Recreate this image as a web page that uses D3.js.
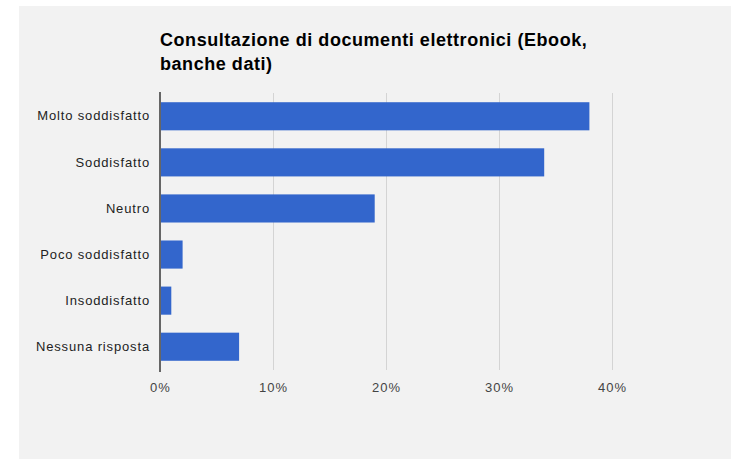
<!DOCTYPE html>
<html>
<head>
<meta charset="utf-8">
<script src="https://cdn.jsdelivr.net/npm/d3@7"></script>
<style>
  html, body { margin: 0; padding: 0; background: #ffffff; }
  svg { display: block; font-family: "Liberation Sans", Arial, sans-serif; }
</style>
</head>
<body>
<svg id="chart" width="731" height="459"></svg>
<script>
// Survey answers and their share of respondents (%)
const categories = ["Molto soddisfatto", "Soddisfatto", "Neutro", "Poco soddisfatto", "Insoddisfatto", "Nessuna risposta"];
const values = [38, 34, 19, 2, 1, 7];
const tickValues = [0, 10, 20, 30, 40];
const titleLines = ["Consultazione di documenti elettronici (Ebook,", "banche dati)"];

const svg = d3.select("#chart");
const W = 731, H = 459;

// light grey panel
svg.append("rect")
  .attr("x", 19).attr("y", 6)
  .attr("width", W - 19).attr("height", H - 6)
  .attr("fill", "#f2f2f2");

const plot = { left: 160, right: 725, top: 93, bottom: 370 };

const x = d3.scaleLinear()
  .domain([0, 10])
  .range([plot.left, plot.left + 113]);

const y = d3.scaleBand()
  .domain(categories)
  .range([plot.top, plot.bottom])
  .paddingInner(0.39)
  .paddingOuter(0.2);

// title
svg.append("text")
  .attr("x", plot.left)
  .attr("y", 46)
  .attr("font-size", 18)
  .attr("font-weight", "bold")
  .attr("letter-spacing", 0.55)
  .attr("fill", "#000")
  .selectAll("tspan")
  .data(titleLines)
  .join("tspan")
  .attr("x", plot.left)
  .attr("dy", (d, i) => i === 0 ? 0 : 24)
  .text(d => d);

// vertical gridlines
svg.append("g")
  .selectAll("line")
  .data(tickValues.filter(v => v > 0))
  .join("line")
  .attr("x1", d => Math.round(x(d)) + 0.5)
  .attr("x2", d => Math.round(x(d)) + 0.5)
  .attr("y1", plot.top)
  .attr("y2", plot.bottom)
  .attr("stroke", "#d4d4d4")
  .attr("stroke-width", 1);

// bars
svg.append("g")
  .selectAll("rect")
  .data(categories.map((c, i) => ({ c, v: values[i] })))
  .join("rect")
  .attr("x", x(0))
  .attr("y", d => y(d.c))
  .attr("width", d => x(d.v) - x(0))
  .attr("height", y.bandwidth())
  .attr("fill", "#3366cc");

// baseline
svg.append("line")
  .attr("x1", x(0)).attr("x2", x(0))
  .attr("y1", plot.top - 1).attr("y2", plot.bottom + 2)
  .attr("stroke", "#666666")
  .attr("stroke-width", 2);

// x axis tick labels
const xAxis = d3.axisBottom(x)
  .tickValues(tickValues)
  .tickSize(0)
  .tickFormat(d => d + "%");

const gx = svg.append("g")
  .attr("transform", `translate(0,${plot.bottom + 10})`)
  .call(xAxis);
gx.select(".domain").remove();
gx.selectAll("text")
  .attr("font-family", "'Liberation Sans', Arial, sans-serif")
  .attr("font-size", 13)
  .attr("letter-spacing", 1)
  .attr("fill", "#444444")
  .attr("dy", "0.71em");

// category labels
const yAxis = d3.axisLeft(y).tickSize(0).tickPadding(10);
const gy = svg.append("g")
  .attr("transform", `translate(${x(0)},0)`)
  .call(yAxis);
gy.select(".domain").remove();
gy.selectAll("text")
  .attr("font-family", "'Liberation Sans', Arial, sans-serif")
  .attr("font-size", 13)
  .attr("letter-spacing", 0.85)
  .attr("fill", "#222222");
</script>
</body>
</html>
